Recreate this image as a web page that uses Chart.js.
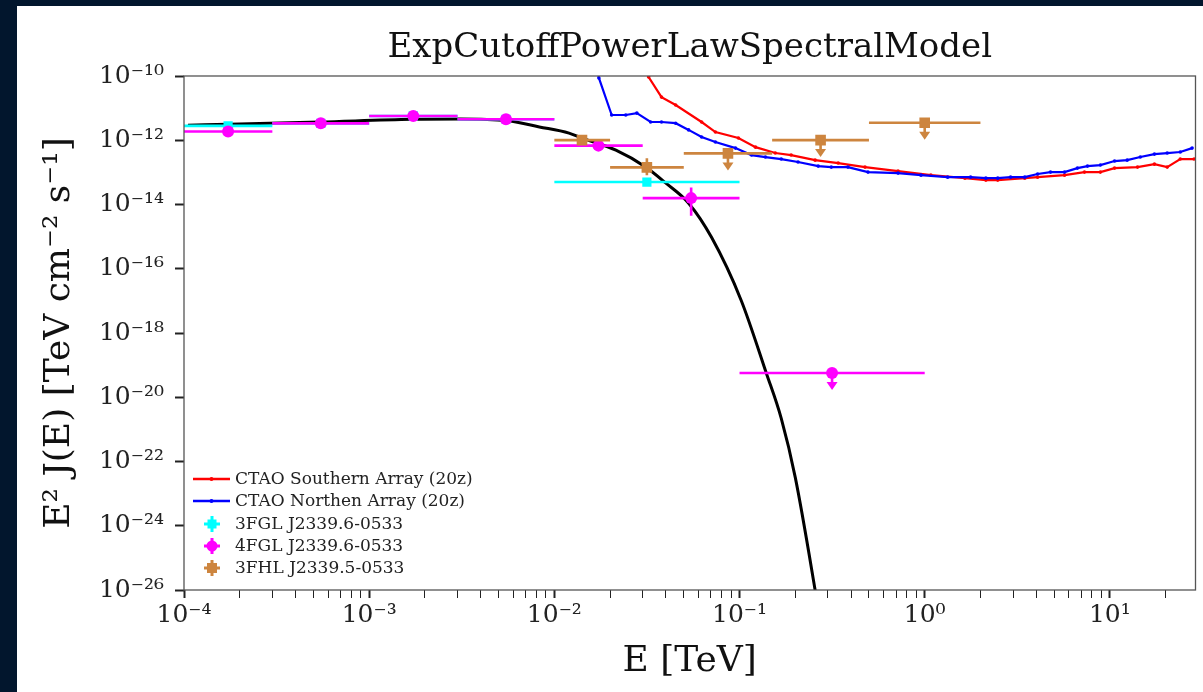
<!DOCTYPE html>
<html>
<head>
<meta charset="utf-8">
<script src="https://cdn.jsdelivr.net/npm/chart.js@4.4.0/dist/chart.umd.min.js"></script>
<style>
html,body{margin:0;padding:0;background:#02162d;overflow:hidden;}
#wrap{width:1203px;height:692px;}
</style>
</head>
<body>
<div id="wrap"><canvas id="c" width="1203" height="692"></canvas></div>
<script>
// ---------- Text ----------
const chartTitle = 'ExpCutoffPowerLawSpectralModel';
const xAxisTitle = 'E [TeV]';
const yAxisTitle = 'E\u00B2 J(E) [TeV cm\u207B\u00B2 s\u207B\u00B9]';
const legendLabels = ['CTAO Southern Array (20z)', 'CTAO Northen Array (20z)', '3FGL J2339.6-0533', '4FGL J2339.6-0533', '3FHL J2339.5-0533'];

// ---------- Tick values ----------
const xMajorTicks = [1e-4, 1e-3, 1e-2, 1e-1, 1e0, 1e1];
const xMinorMultipliers = [2, 3, 4, 5, 6, 7, 8, 9];
const yTicks = [1e-26, 1e-24, 1e-22, 1e-20, 1e-18, 1e-16, 1e-14, 1e-12, 1e-10];

// ---------- Model curve (ExpCutoffPowerLaw, E^2 J(E)) ----------
const modelE    = [1.05e-4, 2e-4, 5.4e-4, 1.7e-3, 3.1e-3, 5.5e-3, 8.3e-3, 0.012, 0.0141, 0.0215, 0.0311, 0.0399, 0.0531, 0.0706, 0.102, 0.1396, 0.168, 0.2, 0.256, 0.27];
const modelFlux = [2.95e-12, 3.2e-12, 3.7e-12, 4.5e-12, 4.6e-12, 4.1e-12, 2.6e-12, 1.67e-12, 1.17e-12, 4.9e-13, 1.47e-13, 4.7e-14, 1.1e-14, 9.5e-16, 1.05e-17, 5.6e-20, 2.2e-21, 3.2e-23, 1e-26, 1.5e-27];

// ---------- CTAO sensitivity curves ----------
const southE    = [0.0304, 0.0323, 0.0379, 0.0452, 0.0624, 0.0741, 0.0986, 0.122, 0.156, 0.190, 0.256, 0.341, 0.476, 0.718, 1.08, 1.65, 2.14, 2.48, 3.47, 4.07, 5.69, 7.29, 8.89, 10.6, 14.1, 17.4, 20.4, 24.0, 28.5];
const southFlux = [3.2e-10, 9.3e-11, 2.2e-11, 1.25e-11, 3.7e-12, 1.8e-12, 1.17e-12, 6.1e-13, 4.0e-13, 3.46e-13, 2.4e-13, 1.95e-13, 1.46e-13, 1.1e-13, 8.2e-14, 6.6e-14, 5.75e-14, 5.75e-14, 6.6e-14, 7.1e-14, 8.2e-14, 1.02e-13, 1.02e-13, 1.36e-13, 1.46e-13, 1.8e-13, 1.46e-13, 2.6e-13, 2.6e-13];
const northE    = [0.0168, 0.0174, 0.0204, 0.0243, 0.0279, 0.0331, 0.0379, 0.0452, 0.0531, 0.0624, 0.0741, 0.0951, 0.116, 0.138, 0.168, 0.207, 0.266, 0.313, 0.385, 0.494, 0.718, 0.955, 1.33, 1.77, 2.14, 2.48, 2.91, 3.47, 4.07, 4.78, 5.69, 6.68, 7.57, 8.89, 10.6, 12.4, 14.6, 17.4, 20.4, 24.0, 27.8];
const northFlux = [3.2e-10, 8.7e-11, 6.1e-12, 6.1e-12, 7.0e-12, 3.7e-12, 3.7e-12, 3.4e-12, 2.1e-12, 1.26e-12, 8.8e-13, 5.7e-13, 3.46e-13, 3.0e-13, 2.6e-13, 2.1e-13, 1.57e-13, 1.46e-13, 1.46e-13, 1.02e-13, 9.5e-14, 8.2e-14, 7.1e-14, 7.1e-14, 6.6e-14, 6.6e-14, 7.1e-14, 7.1e-14, 8.9e-14, 1.02e-13, 1.02e-13, 1.36e-13, 1.57e-13, 1.69e-13, 2.25e-13, 2.4e-13, 3.0e-13, 3.7e-13, 4.0e-13, 4.3e-13, 5.7e-13];

// ---------- 3FGL J2339.6-0533 ----------
const fgl3E    = [1.73e-4, 5.48e-4, 1.73e-3, 5.48e-3, 3.16e-2];
const fgl3Elo  = [1e-4, 3e-4, 1e-3, 3e-3, 1e-2];
const fgl3Ehi  = [3e-4, 1e-3, 3e-3, 1e-2, 1e-1];
const fgl3Flux = [2.8e-12, 3.36e-12, 5.7e-12, 4.5e-12, 5.0e-14];
const fgl3Flo  = [2.6e-12, 3.2e-12, 5.4e-12, 4.3e-12, 4.6e-14];
const fgl3Fhi  = [3.0e-12, 3.5e-12, 6.0e-12, 4.7e-12, 5.4e-14];
const fgl3UL   = [false, false, false, false, false];

// ---------- 4FGL J2339.6-0533 ----------
const fgl4E    = [1.73e-4, 5.48e-4, 1.73e-3, 5.48e-3, 1.73e-2, 5.48e-2, 0.316];
const fgl4Elo  = [1e-4, 3e-4, 1e-3, 3e-3, 1e-2, 3e-2, 1e-1];
const fgl4Ehi  = [3e-4, 1e-3, 3e-3, 1e-2, 3e-2, 1e-1, 1];
const fgl4Flux = [1.87e-12, 3.36e-12, 5.7e-12, 4.5e-12, 6.8e-13, 1.58e-14, 5.7e-20];
const fgl4Flo  = [1.75e-12, 3.2e-12, 5.4e-12, 4.3e-12, 5.9e-13, 4.5e-15, 5.7e-20];
const fgl4Fhi  = [2.0e-12, 3.5e-12, 6.0e-12, 4.7e-12, 7.8e-13, 3.4e-14, 5.7e-20];
const fgl4UL   = [false, false, false, false, false, false, true];

// ---------- 3FHL J2339.5-0533 ----------
const fhl3E    = [1.41e-2, 3.16e-2, 8.66e-2, 0.274, 1.0];
const fhl3Elo  = [1e-2, 2e-2, 5e-2, 0.15, 0.5];
const fhl3Ehi  = [2e-2, 5e-2, 0.15, 0.5, 2];
const fhl3Flux = [1.01e-12, 1.43e-13, 3.9e-13, 1.01e-12, 3.5e-12];
const fhl3Flo  = [8.6e-13, 8.2e-14, 3.9e-13, 1.01e-12, 3.5e-12];
const fhl3Fhi  = [1.2e-12, 2.73e-13, 3.9e-13, 1.01e-12, 3.5e-12];
const fhl3UL   = [false, false, true, true, true];

// ---------- Colours ----------
const colRed = '#ff0000', colBlue = '#0000ff', colCyan = '#00ffff', colMag = '#ff00ff', colBrown = '#cd853f';

const SUP = {'-':'\u207B','0':'\u2070','1':'\u00B9','2':'\u00B2','3':'\u00B3','4':'\u2074','5':'\u2075','6':'\u2076','7':'\u2077','8':'\u2078','9':'\u2079'};
function powLabel(v){
  const e = Math.round(Math.log10(v));
  return '10' + String(e).split('').map(c => SUP[c]).join('');
}
function isDecade(v){ const l = Math.log10(v); return Math.abs(l - Math.round(l)) < 1e-6; }
function pts(xs, ys){ return xs.map((x,i) => ({x: x, y: ys[i]})); }

const SERIF = '"DejaVu Serif", serif';

const bgPlugin = {
  id: 'bgPanel',
  beforeDraw(chart){
    const ctx = chart.ctx;
    ctx.save();
    ctx.fillStyle = '#02162d';
    ctx.fillRect(0, 0, chart.width, chart.height);
    ctx.fillStyle = '#ffffff';
    ctx.fillRect(17, 6, chart.width - 17, chart.height - 6);
    ctx.restore();
  }
};

const errPlugin = {
  id: 'errBars',
  beforeDatasetDraw(chart, args){
    const ds = chart.data.datasets[args.index];
    const eb = ds.errorBars;
    if (!eb) return;
    const xs = chart.scales.x, ys = chart.scales.y, ctx = chart.ctx, a = chart.chartArea;
    ctx.save();
    ctx.beginPath();
    ctx.rect(a.left, a.top, a.right - a.left, a.bottom - a.top);
    ctx.clip();
    ctx.strokeStyle = ds.backgroundColor;
    ctx.fillStyle = ds.backgroundColor;
    ctx.lineWidth = 2.6;
    for (let i = 0; i < eb.x.length; i++){
      const px = xs.getPixelForValue(eb.x[i]);
      const py = ys.getPixelForValue(eb.y[i]);
      const x0 = xs.getPixelForValue(eb.xlo[i]);
      const x1 = xs.getPixelForValue(eb.xhi[i]);
      ctx.beginPath(); ctx.moveTo(x0, py); ctx.lineTo(x1, py); ctx.stroke();
      if (eb.ul[i]){
        ctx.beginPath(); ctx.moveTo(px, py); ctx.lineTo(px, py + 10); ctx.stroke();
        ctx.beginPath(); ctx.moveTo(px - 5.5, py + 9); ctx.lineTo(px + 5.5, py + 9); ctx.lineTo(px, py + 17); ctx.closePath(); ctx.fill();
      } else {
        const y0 = ys.getPixelForValue(eb.ylo[i]);
        const y1 = ys.getPixelForValue(eb.yhi[i]);
        ctx.beginPath(); ctx.moveTo(px, y0); ctx.lineTo(px, y1); ctx.stroke();
      }
    }
    ctx.restore();
  }
};

const framePlugin = {
  id: 'frame',
  afterDatasetsDraw(chart){
    const a = chart.chartArea, ctx = chart.ctx;
    ctx.save();
    ctx.strokeStyle = '#555555';
    ctx.lineWidth = 1.3;
    ctx.strokeRect(a.left, a.top, a.right - a.left, a.bottom - a.top);
    ctx.restore();
  }
};

const legendPlugin = {
  id: 'legendBox',
  afterDraw(chart){
    const ctx = chart.ctx;
    const rows = [479, 501, 524, 546, 568];
    const kinds = [
      {type: 'line', color: colRed},
      {type: 'line', color: colBlue},
      {type: 'rect', color: colCyan, size: 9},
      {type: 'circle', color: colMag, size: 5.5},
      {type: 'rect', color: colBrown, size: 10}
    ];
    ctx.save();
    kinds.forEach((k, i) => {
      const y = rows[i];
      ctx.strokeStyle = k.color; ctx.fillStyle = k.color;
      if (k.type === 'line'){
        ctx.lineWidth = 2.5;
        ctx.beginPath(); ctx.moveTo(193, y); ctx.lineTo(230, y); ctx.stroke();
        ctx.beginPath(); ctx.arc(211.5, y, 2, 0, Math.PI * 2); ctx.fill();
      } else {
        const cx = 212;
        ctx.lineWidth = 3;
        ctx.beginPath(); ctx.moveTo(cx - 8, y); ctx.lineTo(cx + 8, y); ctx.stroke();
        ctx.beginPath(); ctx.moveTo(cx, y - 8); ctx.lineTo(cx, y + 8); ctx.stroke();
        if (k.type === 'rect'){
          ctx.fillRect(cx - k.size / 2, y - k.size / 2, k.size, k.size);
        } else {
          ctx.beginPath(); ctx.arc(cx, y, k.size, 0, Math.PI * 2); ctx.fill();
        }
      }
      ctx.fillStyle = '#222222';
      ctx.font = '17px ' + SERIF;
      ctx.textBaseline = 'middle';
      ctx.textAlign = 'left';
      ctx.fillText(legendLabels[i], 235, y + 1);
    });
    ctx.restore();
  }
};

Chart.defaults.font.family = SERIF;

new Chart(document.getElementById('c'), {
  type: 'scatter',
  data: {
    datasets: [
      {
        label: 'Model', data: pts(modelE, modelFlux), showLine: true,
        borderColor: '#000000', backgroundColor: '#000000', borderWidth: 3,
        pointRadius: 0, cubicInterpolationMode: 'monotone', order: 10, clip: 0
      },
      {
        label: legendLabels[0], data: pts(southE, southFlux), showLine: true,
        borderColor: colRed, backgroundColor: colRed, borderWidth: 2.2,
        pointRadius: 1.8, pointBorderWidth: 0, order: 9, clip: 0
      },
      {
        label: legendLabels[1], data: pts(northE, northFlux), showLine: true,
        borderColor: colBlue, backgroundColor: colBlue, borderWidth: 2.2,
        pointRadius: 1.8, pointBorderWidth: 0, order: 8, clip: 0
      },
      {
        label: legendLabels[2], data: pts(fgl3E, fgl3Flux),
        backgroundColor: colCyan, borderColor: colCyan, pointStyle: 'rect',
        pointRadius: 6.5, pointBorderWidth: 0, order: 6, clip: 0,
        errorBars: {x: fgl3E, y: fgl3Flux, xlo: fgl3Elo, xhi: fgl3Ehi, ylo: fgl3Flo, yhi: fgl3Fhi, ul: fgl3UL}
      },
      {
        label: legendLabels[3], data: pts(fgl4E, fgl4Flux),
        backgroundColor: colMag, borderColor: colMag, pointStyle: 'circle',
        pointRadius: 6, pointBorderWidth: 0, order: 5, clip: 0,
        errorBars: {x: fgl4E, y: fgl4Flux, xlo: fgl4Elo, xhi: fgl4Ehi, ylo: fgl4Flo, yhi: fgl4Fhi, ul: fgl4UL}
      },
      {
        label: legendLabels[4], data: pts(fhl3E, fhl3Flux),
        backgroundColor: colBrown, borderColor: colBrown, pointStyle: 'rect',
        pointRadius: 7.5, pointBorderWidth: 0, order: 4, clip: 0,
        errorBars: {x: fhl3E, y: fhl3Flux, xlo: fhl3Elo, xhi: fhl3Ehi, ylo: fhl3Flo, yhi: fhl3Fhi, ul: fhl3UL}
      }
    ]
  },
  options: {
    responsive: false,
    animation: false,
    events: [],
    layout: {padding: {left: 17, top: 6, right: 4, bottom: 0}},
    plugins: {
      legend: {display: false},
      tooltip: {enabled: false},
      title: {
        display: true, text: chartTitle, color: '#111111', fullSize: false,
        font: {family: SERIF, size: 34, weight: 'normal', lineHeight: 1.2},
        padding: {top: 21.6, bottom: 7.6}
      }
    },
    scales: {
      x: {
        type: 'logarithmic', min: 1e-4, max: 29,
        afterBuildTicks(scale){
          const t = [];
          xMajorTicks.forEach(m => {
            t.push({value: m, major: true});
            xMinorMultipliers.forEach(k => { const v = m * k; if (v <= 29) t.push({value: v, major: false}); });
          });
          scale.ticks = t;
        },
        afterFit(scale){ scale.height = 102; },
        border: {display: false},
        grid: {
          display: true, drawOnChartArea: false, drawTicks: true, tickLength: 8,
          tickColor: '#222222',
          tickWidth: (ctx) => (ctx.tick && ctx.tick.major) ? 2 : 1
        },
        ticks: {
          autoSkip: false, maxRotation: 0, padding: 2, color: '#222222',
          font: {family: SERIF, size: 25},
          callback: (v) => isDecade(v) ? powLabel(v) : ''
        },
        title: {
          display: true, text: xAxisTitle, color: '#111111',
          font: {family: SERIF, size: 36, lineHeight: 1.2},
          padding: {top: 0, bottom: 8.4}
        }
      },
      y: {
        type: 'logarithmic', min: 1e-26, max: 1e-10,
        afterBuildTicks(scale){ scale.ticks = yTicks.map(v => ({value: v, major: true})); },
        afterFit(scale){ scale.width = 167; },
        border: {display: false},
        grid: {
          display: true, drawOnChartArea: false, drawTicks: true, tickLength: 9,
          tickColor: '#222222', tickWidth: 2
        },
        ticks: {
          autoSkip: false, padding: 11, color: '#222222',
          font: {family: SERIF, size: 25},
          callback: (v) => powLabel(v)
        },
        title: {
          display: true, text: yAxisTitle, color: '#111111',
          font: {family: SERIF, size: 36, lineHeight: 1.2},
          padding: {top: 21, bottom: 0}
        }
      }
    }
  },
  plugins: [bgPlugin, errPlugin, framePlugin, legendPlugin]
});
</script>
</body>
</html>
